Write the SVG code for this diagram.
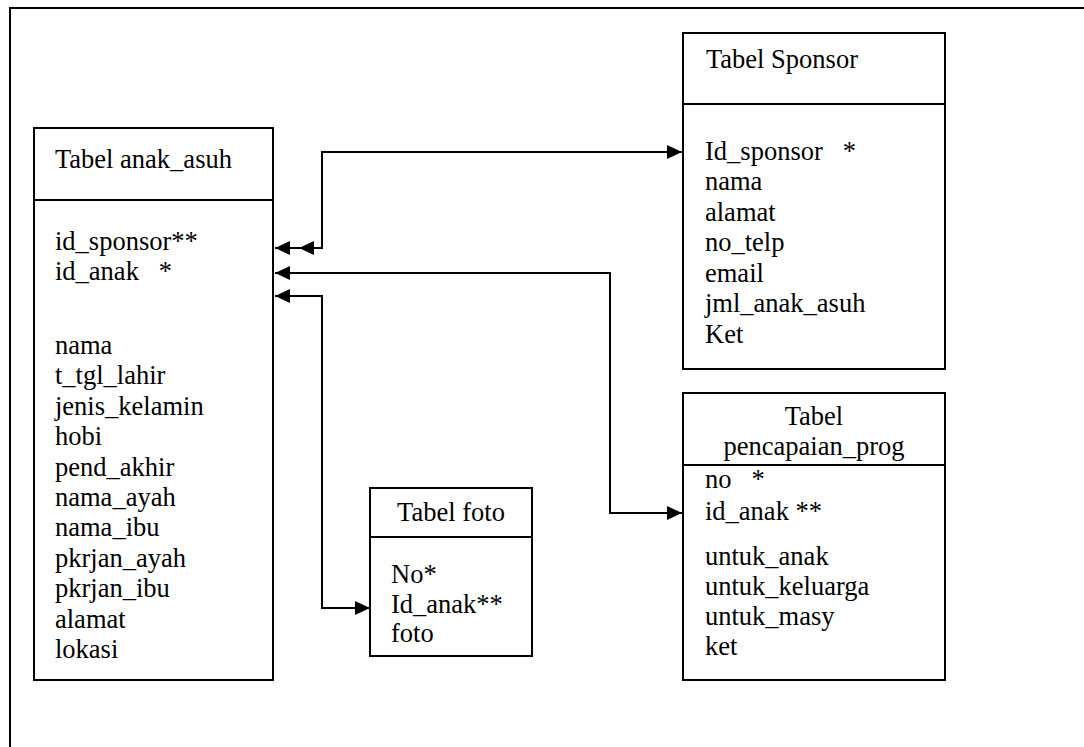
<svg xmlns="http://www.w3.org/2000/svg" width="1084" height="747" viewBox="0 0 1084 747">
<style>
.box{fill:#fff;stroke:#000;stroke-width:2}
.div{stroke:#000;stroke-width:2}
.t{font-family:"Liberation Serif","Times New Roman",serif;font-size:26.5px;fill:#000}
.c{text-anchor:middle}
.con{fill:none;stroke:#000;stroke-width:2}
</style>
<defs>
<marker id="ah" markerUnits="userSpaceOnUse" markerWidth="16" markerHeight="14" refX="15" refY="7" orient="auto-start-reverse" viewBox="0 0 16 14">
<path d="M0,0 L15,7 L0,14 z" fill="#000"/>
</marker>
</defs>
<rect width="1084" height="747" fill="#fff"/>
<path d="M10 747 V8 H1084" fill="none" stroke="#000" stroke-width="2"/>

<g id="anak_asuh">
<rect class="box" x="34" y="128" width="239" height="552"/>
<line class="div" x1="34" y1="200" x2="273" y2="200"/>
<text class="t" x="55" y="168">Tabel anak_asuh</text>
<text class="t" x="55" y="250" xml:space="preserve">id_sponsor**</text>
<text class="t" x="55" y="280" xml:space="preserve">id_anak   *</text>
<text class="t" x="55" y="354">nama</text>
<text class="t" x="55" y="384">t_tgl_lahir</text>
<text class="t" x="55" y="415">jenis_kelamin</text>
<text class="t" x="55" y="445">hobi</text>
<text class="t" x="55" y="476">pend_akhir</text>
<text class="t" x="55" y="506">nama_ayah</text>
<text class="t" x="55" y="536">nama_ibu</text>
<text class="t" x="55" y="567">pkrjan_ayah</text>
<text class="t" x="55" y="597">pkrjan_ibu</text>
<text class="t" x="55" y="628">alamat</text>
<text class="t" x="55" y="658">lokasi</text>
</g>

<g id="sponsor">
<rect class="box" x="683" y="33" width="262" height="336"/>
<line class="div" x1="683" y1="104" x2="945" y2="104"/>
<text class="t" x="706" y="68">Tabel Sponsor</text>
<text class="t" x="705" y="160" xml:space="preserve">Id_sponsor   *</text>
<text class="t" x="705" y="190">nama</text>
<text class="t" x="705" y="221">alamat</text>
<text class="t" x="705" y="251">no_telp</text>
<text class="t" x="705" y="282">email</text>
<text class="t" x="705" y="312">jml_anak_asuh</text>
<text class="t" x="705" y="343">Ket</text>
</g>

<g id="pencapaian_prog">
<rect class="box" x="683" y="393" width="262" height="287"/>
<line class="div" x1="683" y1="465" x2="945" y2="465"/>
<text class="t c" x="814" y="425">Tabel</text>
<text class="t c" x="814" y="455">pencapaian_prog</text>
<text class="t" x="705" y="488" xml:space="preserve">no   *</text>
<text class="t" x="705" y="520">id_anak **</text>
<text class="t" x="705" y="565">untuk_anak</text>
<text class="t" x="705" y="595">untuk_keluarga</text>
<text class="t" x="705" y="625">untuk_masy</text>
<text class="t" x="705" y="655">ket</text>
</g>

<g id="foto">
<rect class="box" x="370" y="488" width="162" height="168"/>
<line class="div" x1="370" y1="537" x2="532" y2="537"/>
<text class="t c" x="451" y="521">Tabel foto</text>
<text class="t" x="391" y="583">No*</text>
<text class="t" x="391" y="613">Id_anak**</text>
<text class="t" x="391" y="642">foto</text>
</g>

<g id="connectors">
<path class="con" d="M275 248 H322 V152 H682" marker-start="url(#ah)" marker-end="url(#ah)"/>
<path d="M299 248 L314 241 L314 255 z" fill="#000"/>
<path class="con" d="M275 273 H610 V513 H682" marker-start="url(#ah)" marker-end="url(#ah)"/>
<path class="con" d="M275 296 H322 V608 H370" marker-start="url(#ah)" marker-end="url(#ah)"/>
</g>
</svg>
